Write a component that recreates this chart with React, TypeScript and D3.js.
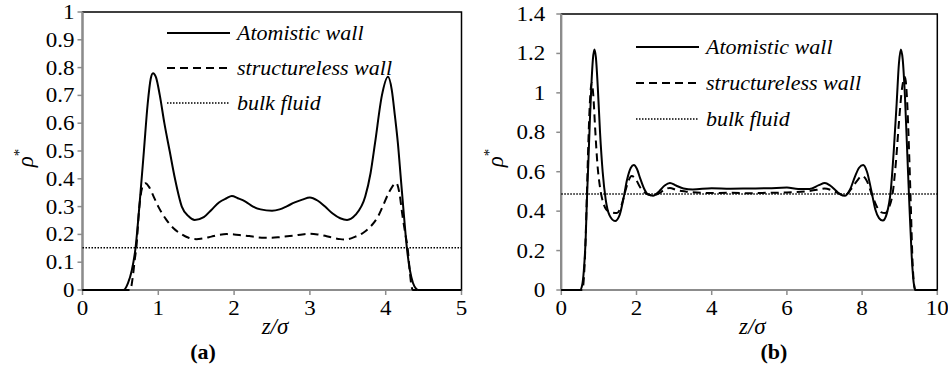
import React from 'react';
import * as d3 from 'd3';

// panel (a): z/sigma vs reduced density
const atomisticA: [number, number][] = [
  [0, 0], [0.54, 0], [0.6, 0.025], [0.65, 0.07], [0.7, 0.152], [0.75, 0.3], [0.81, 0.5],
  [0.86, 0.67], [0.9, 0.76], [0.93, 0.78], [0.97, 0.765], [1.02, 0.7], [1.08, 0.6],
  [1.15, 0.5], [1.22, 0.4], [1.31, 0.3], [1.4, 0.265], [1.48, 0.252], [1.6, 0.262],
  [1.7, 0.288], [1.8, 0.315], [1.9, 0.33], [1.97, 0.338], [2.05, 0.33], [2.15, 0.318],
  [2.25, 0.3], [2.35, 0.29], [2.5, 0.285], [2.6, 0.29], [2.7, 0.302], [2.8, 0.315],
  [2.9, 0.325], [3.0, 0.333], [3.1, 0.322], [3.2, 0.3], [3.3, 0.275], [3.4, 0.258],
  [3.49, 0.252], [3.6, 0.27], [3.73, 0.336], [3.8, 0.42], [3.86, 0.53], [3.95, 0.7],
  [4.03, 0.767], [4.08, 0.72], [4.12, 0.63], [4.16, 0.53], [4.2, 0.4], [4.24, 0.27],
  [4.28, 0.15], [4.32, 0.07], [4.36, 0.025], [4.4, 0.005], [4.43, 0], [5, 0],
];
const structurelessA: [number, number][] = [
  [0, 0], [0.63, 0], [0.66, 0.04], [0.69, 0.11], [0.71, 0.152], [0.75, 0.3], [0.79, 0.37],
  [0.83, 0.384], [0.88, 0.37], [0.94, 0.335], [1.0, 0.3], [1.1, 0.255], [1.2, 0.222],
  [1.31, 0.2], [1.4, 0.188], [1.5, 0.183], [1.6, 0.186], [1.7, 0.192], [1.8, 0.198],
  [1.9, 0.201], [2.0, 0.2], [2.1, 0.197], [2.2, 0.194], [2.3, 0.19], [2.4, 0.188],
  [2.5, 0.188], [2.6, 0.19], [2.7, 0.193], [2.8, 0.196], [2.9, 0.2], [3.0, 0.202],
  [3.1, 0.2], [3.2, 0.195], [3.3, 0.188], [3.4, 0.183], [3.47, 0.182], [3.6, 0.192],
  [3.7, 0.205], [3.8, 0.228], [3.9, 0.265], [3.96, 0.3], [4.05, 0.355], [4.14, 0.385],
  [4.18, 0.35], [4.22, 0.27], [4.26, 0.2], [4.29, 0.15], [4.32, 0.06], [4.34, 0.015],
  [4.36, 0], [5, 0],
];
const bulkA = 0.152;

// panel (b)
const atomisticB: [number, number][] = [
  [0, 0], [0.5, 0], [0.55, 0.02], [0.6, 0.1], [0.65, 0.27], [0.68, 0.45], [0.72, 0.65],
  [0.76, 0.86], [0.8, 1.04], [0.84, 1.17], [0.88, 1.22], [0.92, 1.18], [0.97, 1.03],
  [1.03, 0.8], [1.1, 0.6], [1.18, 0.46], [1.28, 0.38], [1.43, 0.35], [1.55, 0.38],
  [1.65, 0.46], [1.75, 0.56], [1.85, 0.62], [1.93, 0.634], [2.01, 0.615], [2.1, 0.565],
  [2.2, 0.515], [2.3, 0.485], [2.44, 0.478], [2.6, 0.5], [2.75, 0.53], [2.89, 0.543],
  [3.05, 0.53], [3.25, 0.515], [3.5, 0.51], [4.0, 0.516], [4.5, 0.514], [5.0, 0.515],
  [5.5, 0.516], [6.0, 0.52], [6.3, 0.512], [6.6, 0.512], [6.85, 0.532], [7.01, 0.543],
  [7.15, 0.53], [7.3, 0.505], [7.42, 0.485], [7.54, 0.478], [7.68, 0.51], [7.8, 0.57],
  [7.92, 0.62], [8.03, 0.634], [8.13, 0.6], [8.25, 0.5], [8.35, 0.41], [8.45, 0.365],
  [8.55, 0.352], [8.66, 0.39], [8.76, 0.5], [8.84, 0.7], [8.92, 0.95], [8.98, 1.15],
  [9.03, 1.22], [9.08, 1.17], [9.14, 0.98], [9.2, 0.7], [9.26, 0.42], [9.32, 0.17],
  [9.37, 0.04], [9.42, 0], [10, 0],
];
const structurelessB: [number, number][] = [
  [0, 0], [0.56, 0], [0.6, 0.06], [0.64, 0.22], [0.68, 0.48], [0.72, 0.75], [0.76, 0.95],
  [0.81, 1.05], [0.85, 0.99], [0.9, 0.82], [0.96, 0.64], [1.03, 0.52], [1.12, 0.44],
  [1.25, 0.4], [1.48, 0.39], [1.6, 0.43], [1.7, 0.5], [1.78, 0.55], [1.87, 0.578],
  [1.97, 0.565], [2.1, 0.52], [2.25, 0.49], [2.44, 0.48], [2.6, 0.49], [2.75, 0.51],
  [2.89, 0.518], [3.05, 0.508], [3.3, 0.5], [3.6, 0.495], [4.0, 0.492], [4.5, 0.493],
  [5.0, 0.491], [5.5, 0.493], [6.0, 0.495], [6.5, 0.5], [6.8, 0.508], [7.0, 0.515],
  [7.2, 0.505], [7.4, 0.488], [7.54, 0.48], [7.7, 0.51], [7.85, 0.55], [8.0, 0.578],
  [8.12, 0.555], [8.25, 0.49], [8.4, 0.42], [8.5, 0.395], [8.61, 0.39], [8.72, 0.42],
  [8.82, 0.5], [8.9, 0.65], [8.98, 0.85], [9.06, 1.02], [9.14, 1.08], [9.2, 0.95],
  [9.25, 0.7], [9.3, 0.4], [9.34, 0.15], [9.38, 0.03], [9.41, 0], [10, 0],
];
const bulkB = 0.487;

const xTicksA = [0, 1, 2, 3, 4, 5];
const yTicksA = [0, 0.1, 0.2, 0.3, 0.4, 0.5, 0.6, 0.7, 0.8, 0.9, 1];
const xTicksB = [0, 2, 4, 6, 8, 10];
const yTicksB = [0, 0.2, 0.4, 0.6, 0.8, 1, 1.2, 1.4];

const legendLabels = ['Atomistic wall', 'structureless wall', 'bulk fluid'];

const axisGray = '#8c8c8c';

type PanelProps = {
  left: number;
  right: number;
  top: number;
  bottom: number;
  xMax: number;
  yMax: number;
  xTicks: number[];
  yTicks: number[];
  atomistic: [number, number][];
  structureless: [number, number][];
  bulk: number;
  labelGap: number;
  yTitleX: number;
  legendX: number;
  legendY: number;
  legendStep: number;
};

function Panel(props: PanelProps) {
  const x = d3.scaleLinear().domain([0, props.xMax]).range([props.left, props.right]);
  const y = d3.scaleLinear().domain([0, props.yMax]).range([props.bottom, props.top]);
  const line = d3
    .line<[number, number]>()
    .x(d => x(d[0]))
    .y(d => y(d[1]))
    .curve(d3.curveMonotoneX);
  const styles = [
    { dash: 'none', width: 2 },
    { dash: '8,5', width: 2 },
    { dash: '1.5,1.5', width: 1.5 },
  ];
  const cx = (props.left + props.right) / 2;

  return (
    <g>
      <rect
        x={props.left}
        y={props.top}
        width={props.right - props.left}
        height={props.bottom - props.top}
        fill="none"
        stroke="#000"
        strokeWidth={1.5}
      />
      <line x1={props.left} x2={props.left} y1={props.top} y2={props.bottom} stroke={axisGray} strokeWidth={2} />
      <line x1={props.left} x2={props.right} y1={props.bottom} y2={props.bottom} stroke={axisGray} strokeWidth={2} />
      {props.yTicks.map(t => (
        <g key={'y' + t}>
          <line x1={props.left - 5} x2={props.left} y1={y(t)} y2={y(t)} stroke={axisGray} strokeWidth={1.5} />
          <text
            transform={`translate(${props.left - props.labelGap},${y(t) + 7}) scale(1.15,1)`}
            textAnchor="end"
            fontSize={20}
          >
            {String(t)}
          </text>
        </g>
      ))}
      {props.xTicks.map(t => (
        <g key={'x' + t}>
          <line x1={x(t)} x2={x(t)} y1={props.bottom} y2={props.bottom + 5} stroke={axisGray} strokeWidth={1.5} />
          <text
            transform={`translate(${x(t)},${props.bottom + 25}) scale(1.15,1)`}
            textAnchor="middle"
            fontSize={20}
          >
            {String(t)}
          </text>
        </g>
      ))}
      <line
        x1={x(0)}
        x2={x(props.xMax)}
        y1={y(props.bulk)}
        y2={y(props.bulk)}
        stroke="#000"
        strokeWidth={1.5}
        strokeDasharray="1.5,1.5"
      />
      <path d={line(props.structureless) || ''} fill="none" stroke="#000" strokeWidth={2} strokeDasharray="8,5" />
      <path d={line(props.atomistic) || ''} fill="none" stroke="#000" strokeWidth={2} />

      {legendLabels.map((lab, i) => {
        const ly = props.legendY + i * props.legendStep;
        return (
          <g key={lab}>
            <line
              x1={props.legendX}
              x2={props.legendX + 63}
              y1={ly}
              y2={ly}
              stroke="#000"
              strokeWidth={styles[i].width}
              strokeDasharray={styles[i].dash}
            />
            <text x={props.legendX + 70} y={ly + 7} fontStyle="italic" fontSize={22}>
              {lab}
            </text>
          </g>
        );
      })}

      <text x={cx + 3} y={334} textAnchor="middle" fontStyle="italic" fontSize={23}>
        z/σ
      </text>
      <text
        transform={`translate(${props.yTitleX},158) rotate(-90)`}
        textAnchor="middle"
        fontStyle="italic"
        fontSize={23}
      >
        ρ<tspan dy={-9} fontSize={15} fontStyle="normal">*</tspan>
      </text>
    </g>
  );
}

export default function App() {
  return (
    <svg
      width={948}
      height={368}
      fontFamily="Liberation Serif"
      style={{ position: 'absolute', left: 0, top: 0, background: '#fff', fontFamily: 'Liberation Serif' }}
    >
      <Panel
        left={82.5}
        right={461.5}
        top={12}
        bottom={290}
        xMax={5}
        yMax={1}
        xTicks={xTicksA}
        yTicks={yTicksA}
        atomistic={atomisticA}
        structureless={structurelessA}
        bulk={bulkA}
        labelGap={8}
        yTitleX={33}
        legendX={167}
        legendY={33}
        legendStep={35}
      />
      <Panel
        left={561.3}
        right={937.3}
        top={14}
        bottom={290}
        xMax={10}
        yMax={1.4}
        xTicks={xTicksB}
        yTicks={yTicksB}
        atomistic={atomisticB}
        structureless={structurelessB}
        bulk={bulkB}
        labelGap={16}
        yTitleX={503}
        legendX={636}
        legendY={47}
        legendStep={36}
      />
      <text x={203} y={359} textAnchor="middle" fontWeight="bold" fontSize={22}>
        (a)
      </text>
      <text x={774} y={359} textAnchor="middle" fontWeight="bold" fontSize={22}>
        (b)
      </text>
    </svg>
  );
}
